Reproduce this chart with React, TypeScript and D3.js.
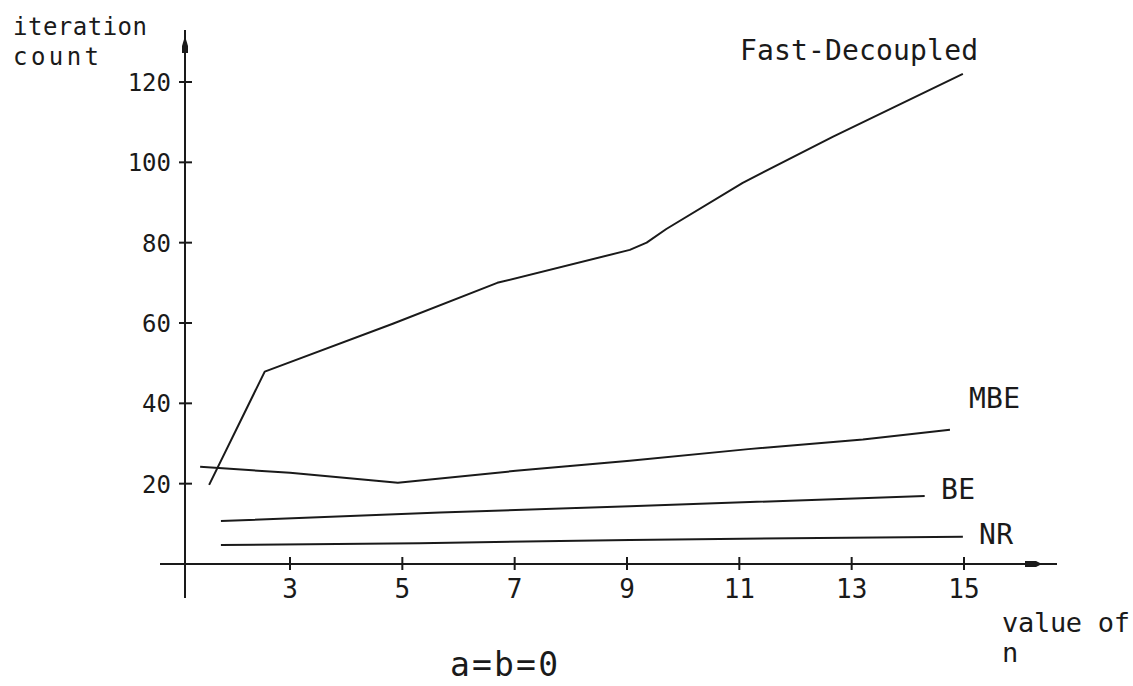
import React from "react";
import * as d3 from "d3";

// values (n, iteration count)
const fastDecoupled: [number, number][] = [
  [1.56, 19.7], [2.55, 47.9], [4.83, 59.8], [6.69, 70.0], [9.05, 78.2],
  [9.35, 80.0], [9.7, 83.4], [11.06, 94.9], [12.67, 106.4], [14.98, 122.0],
];
const mbe: [number, number][] = [
  [1.4, 24.2], [3, 22.7], [4.92, 20.2], [7.02, 23.2], [9.05, 25.7],
  [11.16, 28.6], [13.2, 31.0], [14.75, 33.4],
];
const be: [number, number][] = [
  [1.77, 10.7], [5.67, 12.8], [9.05, 14.4], [14.3, 16.9],
];
const nr: [number, number][] = [
  [1.77, 4.7], [5.3, 5.15], [9.05, 6.0], [14.98, 6.8],
];

const xTicks = [3, 5, 7, 9, 11, 13, 15];
const yTicks = [20, 40, 60, 80, 100, 120];

const W = 1133;
const H = 686;
const FONT = "'DejaVu Sans Mono', monospace";
const INK = "#1a1a1a";

export default function App() {
  const x = d3.scaleLinear().domain([3, 15]).range([290, 964]);
  const y = d3.scaleLinear().domain([0, 120]).range([564, 82]);
  const line = d3
    .line<[number, number]>()
    .x((d) => x(d[0]))
    .y((d) => y(d[1]));

  const axisX = 185; // where the vertical axis is drawn
  const axisY = y(0);

  const series = [
    { name: "Fast-Decoupled", data: fastDecoupled },
    { name: "MBE", data: mbe },
    { name: "BE", data: be },
    { name: "NR", data: nr },
  ];

  return (
    <svg
      width={W}
      height={H}
      style={{ position: "absolute", left: 0, top: 0, background: "#fff" }}
      fontFamily={FONT}
    >
      {/* y axis with arrow */}
      <line x1={axisX} x2={axisX} y1={598} y2={30} stroke={INK} strokeWidth={2} />
      <path d={`M${axisX},36 L${axisX + 3},46 L${axisX + 3},53 L${axisX - 3},53 L${axisX - 3},46 Z`} fill={INK} />
      {/* x axis with arrow */}
      <line x1={160} x2={1057} y1={axisY} y2={axisY} stroke={INK} strokeWidth={2} />
      <path d={`M1025,${axisY - 3} L1036,${axisY - 3} L1042,${axisY} L1036,${axisY + 3} L1025,${axisY + 3} Z`} fill={INK} />

      {yTicks.map((t) => (
        <g key={"y" + t}>
          <line x1={axisX - 6} x2={axisX + 7} y1={y(t)} y2={y(t)} stroke={INK} strokeWidth={2} />
          <text x={171} y={y(t) + 9} textAnchor="end" fontSize={24} fill={INK}>
            {t}
          </text>
        </g>
      ))}
      {xTicks.map((t) => (
        <g key={"x" + t}>
          <line x1={x(t)} x2={x(t)} y1={axisY - 7} y2={axisY + 6} stroke={INK} strokeWidth={2} />
          <text x={x(t)} y={598} textAnchor="middle" fontSize={26} fill={INK}>
            {t}
          </text>
        </g>
      ))}

      {series.map((s) => (
        <path key={s.name} d={line(s.data) ?? ""} fill="none" stroke={INK} strokeWidth={2} strokeLinejoin="round" />
      ))}

      {/* series labels */}
      <text x={740} y={60} fontSize={28} textLength={238} lengthAdjust="spacing" fill={INK}>
        Fast-Decoupled
      </text>
      <text x={969} y={408} fontSize={28} textLength={51} lengthAdjust="spacing" fill={INK}>
        MBE
      </text>
      <text x={941} y={499} fontSize={28} textLength={34} lengthAdjust="spacing" fill={INK}>
        BE
      </text>
      <text x={979} y={544} fontSize={28} textLength={34} lengthAdjust="spacing" fill={INK}>
        NR
      </text>

      {/* axis titles */}
      <text x={13} y={35} fontSize={24} textLength={134} lengthAdjust="spacing" fill={INK}>
        iteration
      </text>
      <text x={13} y={65} fontSize={24} textLength={86} lengthAdjust="spacing" fill={INK}>
        count
      </text>
      <text x={1002} y={632} fontSize={27} textLength={128} lengthAdjust="spacing" fill={INK}>
        value of
      </text>
      <text x={1002} y={662} fontSize={27} fill={INK}>
        n
      </text>
      <text x={450} y={676} fontSize={33} textLength={108} lengthAdjust="spacing" fill={INK}>
        a=b=0
      </text>
    </svg>
  );
}
